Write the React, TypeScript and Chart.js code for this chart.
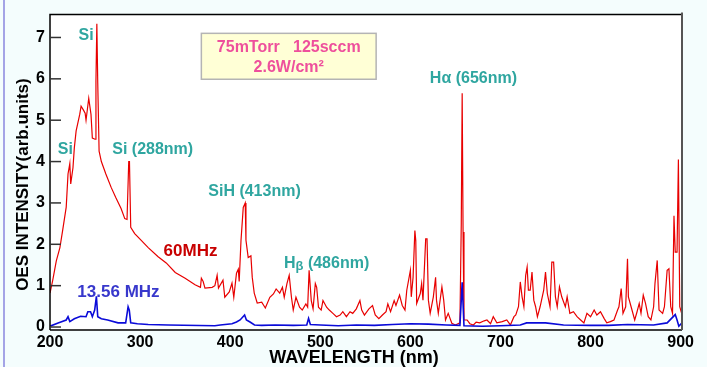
import React, { useEffect, useRef } from "react";
import { Chart, registerables } from "chart.js";

Chart.register(...registerables);

// ---- data ----
const redWavelength = [
  200, 203, 207, 211, 214, 218, 220, 222, 223, 225.5, 227, 229, 233, 234.5, 237, 239, 240, 243, 245.5, 247,
  250, 251, 252, 253, 254.5, 257, 262, 268, 273, 279, 283, 285.5, 287.4, 288.2, 289.6, 294, 301, 309, 320, 329,
  339, 350, 361, 367, 368, 370, 372, 380, 383, 385.5, 387, 392, 394, 399, 402, 404, 407, 409, 410, 412,
  414.5, 416.7, 417.5, 420, 423, 424.5, 426.7, 430, 435, 439, 444, 448, 451, 455, 458, 460, 463, 465.5, 468, 470,
  473, 477, 480, 484, 486, 487.6, 490, 492, 494.5, 496, 498, 501, 503, 507, 510, 514, 518, 522, 525, 529,
  533, 536, 540, 544, 546, 549, 554, 558, 561, 565, 569, 573, 575, 578, 582, 584, 588, 591, 594, 596,
  600, 601, 603, 605, 606, 607, 611, 612.5, 614, 617, 618.5, 620, 622, 625.5, 628, 629, 631, 635, 637, 639,
  642, 646, 650, 655, 656.5, 657.5, 658.5, 659.5, 663, 666, 670, 673, 677, 682, 685, 689, 692, 696, 702, 707,
  711, 715, 717, 720, 722, 724, 726, 728, 729.6, 731, 733, 735, 737, 739, 741, 744, 748, 750, 752, 755,
  757, 759, 761, 763, 765.5, 768, 772, 774, 777, 781, 785, 789, 792.6, 796, 800, 804, 807, 811, 815, 818,
  822, 826, 830, 831.5, 834, 836, 839, 841, 842, 845, 849, 851.6, 854, 856, 858.5, 861, 864, 867, 870, 871.5,
  874, 876, 880, 882, 885, 887, 889, 891, 892.6, 894, 896, 897.5, 899, 901.5,
];
const redIntensity = [
  0.82, 1.13, 1.6, 1.92, 2.33, 2.9, 3.7, 3.95, 3.46, 3.85, 4.33, 4.74, 5.14, 5.34, 5.25, 5.17, 5.0, 5.53, 5.14, 4.57,
  4.54, 5.94, 7.33, 5.9, 4.25, 4.0, 3.7, 3.37, 3.13, 2.86, 2.62, 2.6, 4.0, 4.0, 2.41, 2.26, 2.1, 1.92, 1.7, 1.55,
  1.32, 1.18, 1.02, 0.96, 1.18, 1.1, 0.94, 0.96, 1.0, 1.25, 0.94, 1.13, 0.72, 0.85, 1.06, 0.72, 1.3, 1.4, 1.1, 2.09,
  2.89, 3.0, 2.1, 1.68, 1.72, 1.2, 0.82, 0.58, 0.6, 0.46, 0.72, 0.8, 0.92, 0.82, 0.96, 0.72, 1.05, 1.25, 0.72, 0.41,
  0.72, 0.48, 0.41, 0.56, 0.48, 1.37, 0.64, 0.44, 1.05, 0.96, 0.48, 0.41, 0.64, 0.48, 0.41, 0.33, 0.25, 0.29, 0.37, 0.25,
  0.37, 0.33, 0.44, 0.64, 0.41, 0.29, 0.44, 0.52, 0.29, 0.2, 0.29, 0.37, 0.56, 0.37, 0.64, 0.52, 0.77, 0.52, 0.41, 0.89,
  1.37, 0.73, 1.2, 2.33, 2.09, 0.57, 0.81, 1.05, 0.65, 2.13, 2.13, 0.65, 0.33, 0.73, 1.2, 0.65, 0.33, 0.97, 0.65, 0.17,
  0.33, 0.09, 0.05, 0.1, 2.5, 5.65, 2.3, 0.17, 0.17, 0.08, 0.05, 0.12, 0.1, 0.15, 0.17, 0.08, 0.25, 0.1, 0.13, 0.17,
  0.05, 0.25, 0.29, 0.49, 1.09, 0.73, 0.49, 1.25, 1.45, 0.89, 0.89, 1.33, 0.65, 0.49, 0.25, 0.49, 0.89, 1.33, 0.81, 0.49,
  1.57, 1.57, 0.73, 0.49, 0.97, 0.73, 0.49, 0.73, 0.33, 0.37, 0.25, 0.17, 0.1, 0.33, 0.25, 0.41, 0.29, 0.37, 0.21, 0.1,
  0.13, 0.17, 0.41, 0.49, 0.93, 0.33, 0.49, 1.65, 0.73, 0.49, 0.17, 0.37, 0.57, 0.33, 0.77, 0.57, 0.25, 0.17, 0.49, 1.05,
  1.61, 0.41, 0.33, 0.49, 1.37, 1.41, 0.49, 0.33, 2.69, 1.81, 1.81, 4.05, 0.49, 0.3,
];

const blueWavelength = [
  200, 209, 218, 220, 222, 227, 234, 240, 242, 245, 247, 249.6, 251.5, 253, 257, 264, 275.5, 284, 286.7, 288,
  289.6, 297, 309, 331, 383, 389, 402, 407, 411, 416, 418, 422, 427, 435, 450, 470, 485, 487, 489, 500,
  520, 540, 560, 580, 600, 620, 640, 655, 657.5, 659.5, 680, 700, 722, 729, 750, 770, 800, 820, 841, 870,
  885, 894, 896, 898, 901.5,
];
const blueIntensity = [
  0.02, 0.1, 0.17, 0.25, 0.13, 0.2, 0.26, 0.25, 0.37, 0.37, 0.25, 0.41, 0.74, 0.25, 0.2, 0.17, 0.1, 0.1, 0.49, 0.41,
  0.1, 0.08, 0.06, 0.05, 0.03, 0.05, 0.08, 0.12, 0.17, 0.29, 0.17, 0.12, 0.05, 0.04, 0.05, 0.04, 0.05, 0.21, 0.06, 0.05,
  0.03, 0.05, 0.04, 0.06, 0.08, 0.07, 0.05, 0.04, 1.08, 0.03, 0.02, 0.03, 0.05, 0.1, 0.1, 0.05, 0.04, 0.04, 0.06, 0.05,
  0.1, 0.3, 0.17, 0.02, 0.1,
];

const xTickValues = [200, 300, 400, 500, 600, 700, 800, 900];
const yTickValues = [0, 1, 2, 3, 4, 5, 6, 7];

const xTitle = "WAVELENGTH (nm)";
const yTitle = "OES INTENSITY(arb.units)";
const conditionLines = ["75mTorr   125sccm", "2.6W/cm\u00B2"];

// peak annotations, positioned in data coordinates (nm, intensity)
const peakLabels = [
  { text: "Si", nm: 240, val: 7.05 },
  { text: "Si", nm: 217, val: 4.3 },
  { text: "Si (288nm)", nm: 314, val: 4.3 },
  { text: "SiH (413nm)", nm: 427, val: 3.27 },
  { text: "H\u03B1 (656nm)", nm: 670, val: 6.0 },
];
const hBeta = { nm: 507, val: 1.54 };
const seriesLabels = [
  { text: "60MHz", nm: 356, val: 1.83, color: "#c80000" },
  { text: "13.56 MHz", nm: 276, val: 0.84, color: "#3838cc" },
];
const conditionBox = { nm0: 368, nm1: 562, v0: 7.1, v1: 5.99 };

const FONT = "'Liberation Sans', Arial, sans-serif";
const TEAL = "#2fa6a0";

const decor = {
  id: "decor",
  beforeDraw(chart: any) {
    const { ctx, chartArea, width, height } = chart;
    ctx.save();
    ctx.fillStyle = "#f4fdfd";
    ctx.fillRect(0, 0, width, height);
    ctx.fillStyle = "#a4a4e6";
    ctx.fillRect(3, 0, 2, height);
    ctx.fillStyle = "#ffffff";
    ctx.fillRect(chartArea.left, chartArea.top, chartArea.right - chartArea.left, chartArea.bottom - chartArea.top);
    ctx.restore();
  },
  afterDatasetsDraw(chart: any) {
    const { ctx, chartArea } = chart;
    const { left, top, right, bottom } = chartArea;
    const xs = chart.scales.x;
    const ys = chart.scales.y;
    ctx.save();

    // frame
    ctx.strokeStyle = "#000";
    ctx.lineWidth = 1.5;
    ctx.beginPath();
    ctx.moveTo(left, bottom);
    ctx.lineTo(left, top);
    ctx.lineTo(right, top);
    ctx.moveTo(left, bottom);
    ctx.lineTo(right, bottom);
    ctx.stroke();
    ctx.strokeStyle = "#555";
    ctx.lineWidth = 2;
    ctx.beginPath();
    ctx.moveTo(right, top - 2);
    ctx.lineTo(right, bottom);
    ctx.stroke();

    // inward y ticks
    ctx.strokeStyle = "#333";
    ctx.lineWidth = 1.5;
    yTickValues.forEach((v) => {
      const py = ys.getPixelForValue(v);
      ctx.beginPath();
      ctx.moveTo(left, py);
      ctx.lineTo(left + 11, py);
      ctx.stroke();
    });

    // condition box
    const bx0 = xs.getPixelForValue(conditionBox.nm0);
    const bx1 = xs.getPixelForValue(conditionBox.nm1);
    const by0 = ys.getPixelForValue(conditionBox.v0);
    const by1 = ys.getPixelForValue(conditionBox.v1);
    ctx.fillStyle = "#ffffd6";
    ctx.fillRect(bx0, by0, bx1 - bx0, by1 - by0);
    ctx.strokeStyle = "#b4b4b4";
    ctx.lineWidth = 1.5;
    ctx.strokeRect(bx0, by0, bx1 - bx0, by1 - by0);
    ctx.fillStyle = "#ee4f9c";
    ctx.font = `bold 16px ${FONT}`;
    ctx.textAlign = "center";
    ctx.textBaseline = "middle";
    const bcx = (bx0 + bx1) / 2;
    ctx.fillText(conditionLines[0], bcx, by0 + 14.5);
    ctx.fillText(conditionLines[1], bcx, by0 + 34);

    // peak labels
    ctx.fillStyle = TEAL;
    ctx.font = `bold 16px ${FONT}`;
    peakLabels.forEach((l) => {
      ctx.fillText(l.text, xs.getPixelForValue(l.nm), ys.getPixelForValue(l.val));
    });
    // H beta with subscript-like beta
    {
      const cx = xs.getPixelForValue(hBeta.nm);
      const cy = ys.getPixelForValue(hBeta.val);
      ctx.font = `bold 16px ${FONT}`;
      const wH = ctx.measureText("H").width;
      const wR = ctx.measureText(" (486nm)").width;
      ctx.font = `bold 13px ${FONT}`;
      const wB = ctx.measureText("\u03B2").width;
      let x = cx - (wH + wB + wR) / 2;
      ctx.textAlign = "left";
      ctx.font = `bold 16px ${FONT}`;
      ctx.fillText("H", x, cy);
      x += wH;
      ctx.font = `bold 13px ${FONT}`;
      ctx.fillText("\u03B2", x, cy + 3);
      x += wB;
      ctx.font = `bold 16px ${FONT}`;
      ctx.fillText(" (486nm)", x, cy);
      ctx.textAlign = "center";
    }

    // series labels
    ctx.font = `bold 17px ${FONT}`;
    seriesLabels.forEach((l) => {
      ctx.fillStyle = l.color;
      ctx.fillText(l.text, xs.getPixelForValue(l.nm), ys.getPixelForValue(l.val));
    });

    // axis titles
    ctx.fillStyle = "#000";
    ctx.font = `bold 18px ${FONT}`;
    ctx.fillText(xTitle, left + 304, bottom + 28);
    ctx.save();
    ctx.translate(23, top + 170);
    ctx.rotate(-Math.PI / 2);
    ctx.font = `bold 17px ${FONT}`;
    ctx.fillText(yTitle, 0, 0);
    ctx.restore();

    ctx.restore();
  },
};

export default function App() {
  const ref = useRef<HTMLCanvasElement | null>(null);

  useEffect(() => {
    if (!ref.current) return;
    const red = redWavelength.map((x, i) => ({ x, y: redIntensity[i] }));
    const blue = blueWavelength.map((x, i) => ({ x, y: blueIntensity[i] }));
    const chart = new Chart(ref.current, {
      type: "line",
      data: {
        datasets: [
          {
            label: "13.56 MHz",
            data: blue,
            borderColor: "#0a0ad8",
            borderWidth: 1.6,
            pointRadius: 0,
            tension: 0,
            fill: false,
          },
          {
            label: "60MHz",
            data: red,
            borderColor: "#e80000",
            borderWidth: 1.2,
            pointRadius: 0,
            tension: 0,
            fill: false,
          },
        ],
      },
      options: {
        responsive: false,
        animation: false,
        events: [],
        layout: { padding: { left: 0, top: 13, right: 25, bottom: 0 } },
        plugins: { legend: { display: false }, tooltip: { enabled: false }, title: { display: false } },
        scales: {
          x: {
            type: "linear",
            min: 200,
            max: 901.5,
            grid: { display: false, drawTicks: false },
            border: { display: false },
            afterBuildTicks: (s: any) => {
              s.ticks = xTickValues.map((v) => ({ value: v }));
            },
            afterFit: (s: any) => {
              s.height = 37;
            },
            ticks: {
              color: "#000",
              font: { family: FONT, size: 16, weight: "bold" },
              padding: 3,
              maxRotation: 0,
              autoSkip: false,
            },
          },
          y: {
            type: "linear",
            min: -0.072,
            max: 7.553,
            grid: { display: false, drawTicks: false },
            border: { display: false },
            afterBuildTicks: (s: any) => {
              s.ticks = yTickValues.map((v) => ({ value: v }));
            },
            afterFit: (s: any) => {
              s.width = 50;
            },
            ticks: {
              color: "#000",
              font: { family: FONT, size: 16, weight: "bold" },
              padding: 5,
              autoSkip: false,
            },
          },
        },
      },
      plugins: [decor],
    });
    return () => chart.destroy();
  }, []);

  return (
    <div style={{ position: "fixed", left: 0, top: 0, width: 707, height: 367 }}>
      <canvas ref={ref} width={707} height={367} style={{ display: "block", width: 707, height: 367 }} />
    </div>
  );
}
